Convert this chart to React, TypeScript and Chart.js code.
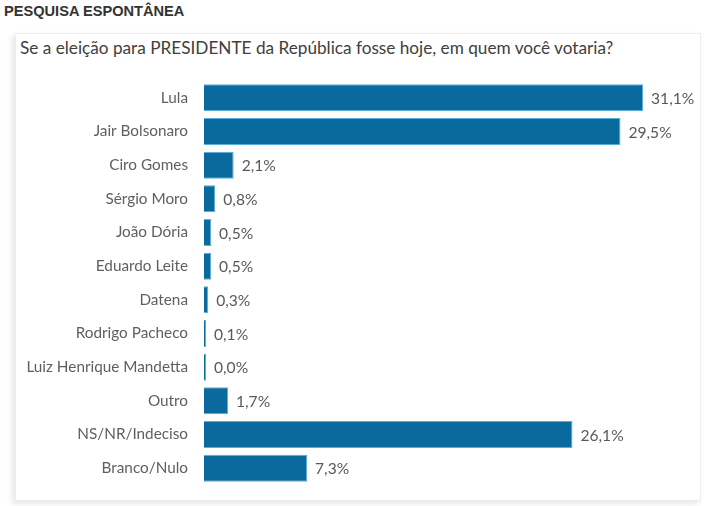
import React, { useEffect, useRef } from "react";
import { Chart, registerables } from "chart.js";

Chart.register(...registerables);

const categories = [
  "Lula",
  "Jair Bolsonaro",
  "Ciro Gomes",
  "Sérgio Moro",
  "João Dória",
  "Eduardo Leite",
  "Datena",
  "Rodrigo Pacheco",
  "Luiz Henrique Mandetta",
  "Outro",
  "NS/NR/Indeciso",
  "Branco/Nulo",
];
const values = [31.1, 29.5, 2.1, 0.8, 0.5, 0.5, 0.3, 0.1, 0.0, 1.7, 26.1, 7.3];

const pageTitle = "PESQUISA ESPONTÂNEA";
const question = "Se a eleição para PRESIDENTE da República fosse hoje, em quem você votaria?";

const fmt = (v: number) => v.toFixed(1).replace(".", ",") + "%";

const valueLabels = {
  id: "valueLabels",
  afterDatasetsDraw(chart: any) {
    const ctx = chart.ctx;
    const meta = chart.getDatasetMeta(0);
    ctx.save();
    ctx.font = "15.6px Lato, 'Open Sans', sans-serif";
    ctx.fillStyle = "#595959";
    ctx.textAlign = "left";
    ctx.textBaseline = "middle";
    meta.data.forEach((bar: any, i: number) => {
      const x = Math.max(bar.x, bar.base + 2);
      ctx.fillText(fmt(values[i]), x + 8, bar.y + 1);
    });
    ctx.restore();
  },
};

export default function App() {
  const ref = useRef<HTMLCanvasElement | null>(null);
  useEffect(() => {
    if (!ref.current) return;
    const chart = new Chart(ref.current, {
      type: "bar",
      data: {
        labels: categories,
        datasets: [
          {
            data: values,
            backgroundColor: "#0a6a9e",
            borderColor: "#5aaedc",
            borderWidth: 1,
            barPercentage: 0.8,
            categoryPercentage: 1,
            minBarLength: 2,
          },
        ],
      },
      options: {
        indexAxis: "y",
        animation: false,
        responsive: false,
        maintainAspectRatio: false,
        layout: { padding: { top: 81, bottom: 21, left: 0, right: 23 } },
        plugins: { legend: { display: false }, tooltip: { enabled: false }, title: { display: false } },
        scales: {
          x: { display: false, min: 0, max: 34 },
          y: {
            grid: { display: false },
            border: { display: false },
            ticks: {
              padding: 8,
              color: "#5f5f5f",
              font: { family: "Lato, 'Open Sans', sans-serif", size: 15.3 },
            },
            afterFit(scale: any) {
              scale.width = 204;
            },
          },
        },
      },
      plugins: [valueLabels],
    });
    return () => chart.destroy();
  }, []);

  return (
    <div style={{ position: "fixed", left: 0, top: 0, width: 707, height: 506, background: "#fff", overflow: "hidden" }}>
      <div
        style={{
          position: "absolute",
          left: 15,
          top: 33,
          width: 684,
          height: 466,
          background: "#fff",
          boxShadow: "-3px 3px 6px rgba(0,0,0,0.10)",
          border: "1px solid #eeeeee",
        }}
      />
      <div
        style={{
          position: "absolute",
          left: 4,
          top: 3,
          fontFamily: "Arial, 'Liberation Sans', sans-serif",
          fontWeight: "bold",
          fontSize: 14.6,
          color: "#333",
          whiteSpace: "nowrap",
        }}
      >
        {pageTitle}
      </div>
      <div
        style={{
          position: "absolute",
          left: 20,
          top: 37,
          fontFamily: "Lato, 'Open Sans', sans-serif",
          fontSize: 17.2,
          color: "#404040",
          whiteSpace: "nowrap",
        }}
      >
        {question}
      </div>
      <canvas ref={ref} width={707} height={506} style={{ position: "absolute", left: 0, top: 0 }} />
    </div>
  );
}
